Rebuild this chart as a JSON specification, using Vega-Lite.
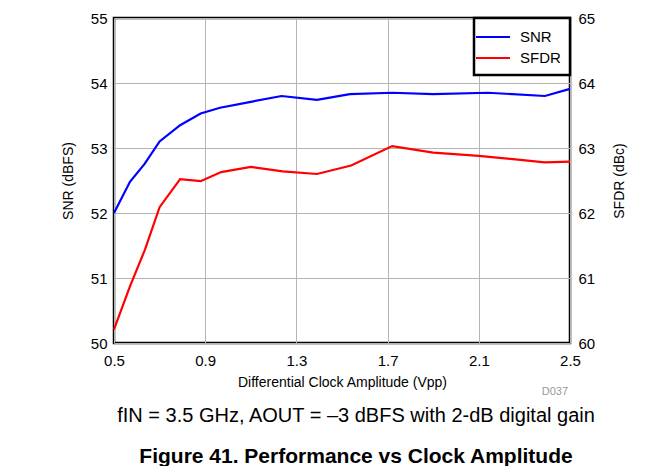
{
  "$schema": "https://vega.github.io/schema/vega-lite/v6.json",
  "width": 456,
  "height": 325,
  "autosize": "none",
  "padding": {"left": 114, "top": 18, "right": 99, "bottom": 123},
  "background": "white",
  "config": {
    "font": "Liberation Sans",
    "view": {"stroke": "black", "strokeWidth": 2.5},
    "legend": {"strokeWidth": 2.5},
    "axis": {
      "labelFont": "Liberation Sans",
      "titleFont": "Liberation Sans",
      "labelColor": "black",
      "titleColor": "black",
      "labelFontSize": 15,
      "titleFontSize": 14,
      "titleFontWeight": "normal",
      "ticks": false,
      "domain": false,
      "gridColor": "#b4b4b4",
      "gridWidth": 1,
      "gridOpacity": 1
    }
  },
  "title": {
    "text": "fIN = 3.5 GHz, AOUT = –3 dBFS with 2-dB digital gain",
    "subtitle": "Figure 41. Performance vs Clock Amplitude",
    "orient": "bottom",
    "anchor": "middle",
    "dx": 14,
    "font": "Liberation Sans",
    "fontSize": 20,
    "fontWeight": "normal",
    "color": "black",
    "subtitleFont": "Liberation Sans",
    "subtitleFontSize": 21,
    "subtitleFontWeight": "bold",
    "subtitleColor": "black",
    "subtitlePadding": 20,
    "offset": 9
  },
  "data": {
    "values": [
      {"amp": 0.5, "series": "SNR", "val": 52.0},
      {"amp": 0.57, "series": "SNR", "val": 52.48},
      {"amp": 0.635, "series": "SNR", "val": 52.76},
      {"amp": 0.7, "series": "SNR", "val": 53.1},
      {"amp": 0.79, "series": "SNR", "val": 53.35},
      {"amp": 0.88, "series": "SNR", "val": 53.53},
      {"amp": 0.965, "series": "SNR", "val": 53.62},
      {"amp": 1.1, "series": "SNR", "val": 53.71},
      {"amp": 1.235, "series": "SNR", "val": 53.8},
      {"amp": 1.39, "series": "SNR", "val": 53.74},
      {"amp": 1.535, "series": "SNR", "val": 53.83},
      {"amp": 1.72, "series": "SNR", "val": 53.85},
      {"amp": 1.9, "series": "SNR", "val": 53.83},
      {"amp": 2.14, "series": "SNR", "val": 53.85},
      {"amp": 2.39, "series": "SNR", "val": 53.8},
      {"amp": 2.5, "series": "SNR", "val": 53.91},
      {"amp": 0.5, "series": "SFDR", "val": 60.21},
      {"amp": 0.57, "series": "SFDR", "val": 60.87},
      {"amp": 0.635, "series": "SFDR", "val": 61.43},
      {"amp": 0.7, "series": "SFDR", "val": 62.09},
      {"amp": 0.79, "series": "SFDR", "val": 62.52},
      {"amp": 0.88, "series": "SFDR", "val": 62.49},
      {"amp": 0.97, "series": "SFDR", "val": 62.63},
      {"amp": 1.1, "series": "SFDR", "val": 62.71},
      {"amp": 1.24, "series": "SFDR", "val": 62.64},
      {"amp": 1.39, "series": "SFDR", "val": 62.6},
      {"amp": 1.54, "series": "SFDR", "val": 62.73},
      {"amp": 1.72, "series": "SFDR", "val": 63.03},
      {"amp": 1.9, "series": "SFDR", "val": 62.93},
      {"amp": 2.1, "series": "SFDR", "val": 62.88},
      {"amp": 2.39, "series": "SFDR", "val": 62.78},
      {"amp": 2.5, "series": "SFDR", "val": 62.79},
      {"amp": 2.5, "series": "label", "val": 50, "t": "D037"}
    ]
  },
  "layer": [
    {
      "transform": [{"filter": "datum.series === 'SNR'"}],
      "mark": {"type": "line", "strokeWidth": 2.2},
      "encoding": {
        "x": {
          "field": "amp",
          "type": "quantitative",
          "scale": {"domain": [0.5, 2.5], "nice": false, "zero": false},
          "axis": {
            "values": [0.5, 0.9, 1.3, 1.7, 2.1, 2.5],
            "format": ".1f",
            "title": "Differential Clock Amplitude (Vpp)",
            "labelPadding": 10,
            "titlePadding": 7,
            "labelFlush": false
          }
        },
        "y": {
          "field": "val",
          "type": "quantitative",
          "scale": {"domain": [50, 55], "nice": false, "zero": false},
          "axis": {
            "orient": "left",
            "values": [50, 51, 52, 53, 54, 55],
            "title": "SNR (dBFS)",
            "labelPadding": 7,
            "titlePadding": 15,
            "labelFlush": false
          }
        },
        "color": {
          "field": "series",
          "type": "nominal",
          "scale": {"domain": ["SNR", "SFDR"], "range": ["#0000ff", "#ff0000"]},
          "legend": {
            "orient": "top-right",
            "offset": 0,
            "title": null,
            "labelFont": "Liberation Sans",
            "labelFontSize": 15,
            "labelColor": "black",
            "symbolType": "M-2,0H2",
            "symbolSize": 289,
            "symbolStrokeWidth": 2.2,
            "strokeColor": "black",
            "fillColor": "white",
            "padding": 9,
            "rowPadding": 3,
            "labelOffset": 17
          }
        }
      }
    },
    {
      "transform": [{"filter": "datum.series === 'SFDR'"}],
      "mark": {"type": "line", "strokeWidth": 2.2},
      "encoding": {
        "x": {"field": "amp", "type": "quantitative"},
        "y": {
          "field": "val",
          "type": "quantitative",
          "scale": {"domain": [60, 65], "nice": false, "zero": false},
          "axis": {
            "orient": "right",
            "values": [60, 61, 62, 63, 64, 65],
            "title": "SFDR (dBc)",
            "titleAngle": 270,
            "grid": false,
            "labelPadding": 8,
            "titlePadding": 32,
            "labelFlush": false
          }
        },
        "color": {"field": "series", "type": "nominal"}
      }
    },
    {
      "transform": [{"filter": "datum.series === 'label'"}],
      "mark": {"type": "text", "align": "right", "baseline": "top", "dy": 43, "dx": -2, "fontSize": 11, "color": "#999999", "clip": false},
      "encoding": {
        "x": {"field": "amp", "type": "quantitative"},
        "y": {"field": "val", "type": "quantitative", "scale": {"domain": [50, 55], "nice": false, "zero": false}, "axis": null},
        "text": {"field": "t"}
      }
    }
  ],
  "resolve": {"scale": {"y": "independent"}}
}
